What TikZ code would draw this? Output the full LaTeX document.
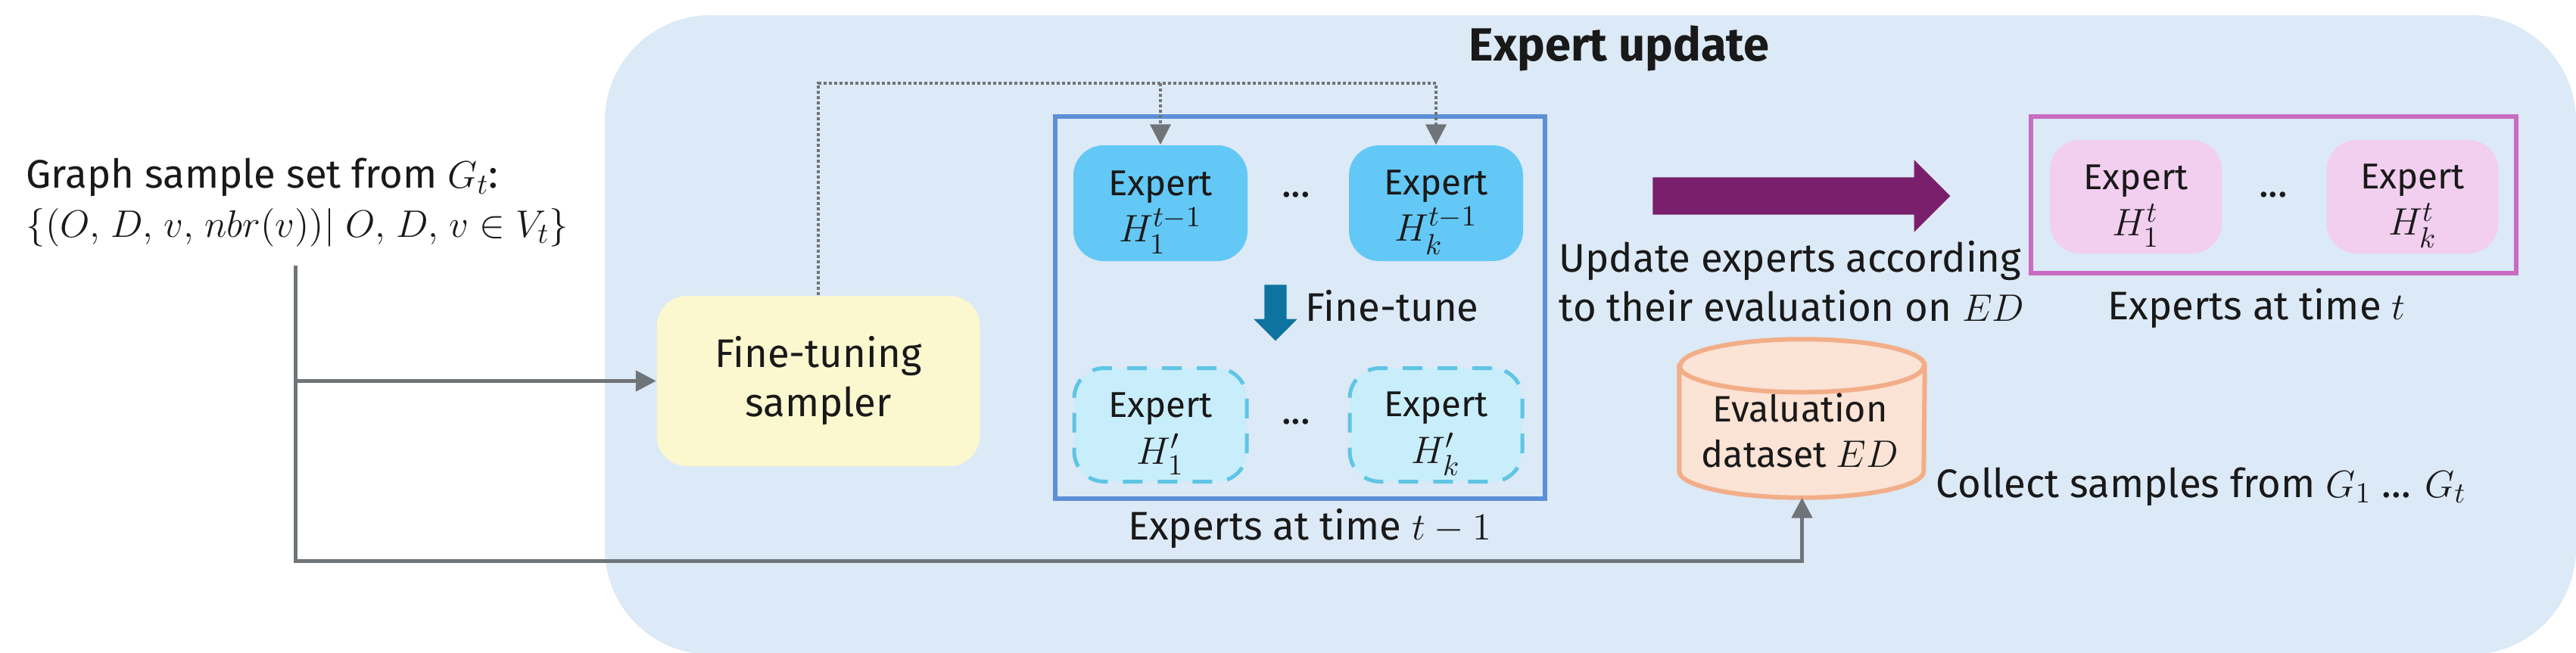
\documentclass[tikz,border=0pt]{standalone}
\usepackage{amsmath}
\usepackage{fontspec}
\setmainfont{Fira Sans}
\usetikzlibrary{arrows.meta, shapes}

\definecolor{panelblue}{HTML}{DCE9F6}
\definecolor{framblue}{HTML}{5B8FD6}
\definecolor{framepink}{HTML}{C96BC0}
\definecolor{oldfill}{HTML}{63C8F5}
\definecolor{newfill}{HTML}{C9EEFB}
\definecolor{newline}{HTML}{5FC5E5}
\definecolor{pinkfill}{HTML}{F2CEEF}
\definecolor{samplerfill}{HTML}{FBF8CF}
\definecolor{edfill}{HTML}{FBE3D5}
\definecolor{edline}{HTML}{F2AE88}
\definecolor{wirecol}{HTML}{6F7478}
\definecolor{fatblue}{HTML}{0E739F}
\definecolor{fatpurple}{HTML}{7A1F6B}

\newcommand{\lift}{\rule{0pt}{16pt}}
\newcommand{\mathsize}{\fontsize{15}{17.5}\selectfont}

\tikzset{
	txt/.style={font=\fontsize{15}{18.5}\selectfont, inner sep=0pt, text=black!90},
	expert/.style={txt, font=\fontsize{13.5}{17.5}\selectfont, rectangle, rounded corners=0.4cm, align=center, minimum width=2.3cm, minimum height=1.53cm},
	oldexpert/.style={expert, fill=oldfill},
	newexpert/.style={expert, fill=newfill, draw=newline, line width=0.05cm, dash pattern=on 0.26cm off 0.2cm, minimum width=2.28cm, minimum height=1.5cm},
	tipexpert/.style={expert, fill=pinkfill, minimum width=2.27cm, minimum height=1.5cm},
	cyl/.style={draw=edline, line width=0.06cm},
	wire/.style={draw=wirecol, line width=0.05cm, -{Triangle[length=2.7mm, width=2.7mm]}},
	dotwire/.style={wire, line width=0.04cm, dash pattern=on 0.04cm off 0.03cm}
}

\begin{document}
\begin{tikzpicture}
	\useasboundingbox (0, 0) rectangle (34.03, 8.62);

	\node[rectangle, rounded corners=1.4cm, fill=panelblue, minimum width=26.04cm, minimum height=8.45cm] (panel) at (21.01, 4.195) {};
	\node[txt, font=\fontsize{17.5}{20}\selectfont\bfseries] (title) at (21.39, 7.98) {Expert update};

	\node[txt, align=left, anchor=west] (graph) at (0.34, 5.94) {Graph sample set from $G_t$:\\$\thinmuskip=5mu \{(O, D, v, nbr(v))|\, O, D, v \in V_t\}$};
	\node[txt, rectangle, rounded corners=0.4cm, align=center, fill=samplerfill, minimum width=4.27cm, minimum height=2.25cm] (sampler) at (10.81, 3.585) {Fine-tuning\\sampler};

	% experts at time t-1
	\node[rectangle, draw=framblue, line width=0.06cm, minimum width=6.47cm, minimum height=5.05cm] (oldframe) at (17.175, 4.555) {};
	\node[oldexpert] (old1) at (15.33, 5.935) {\lift Expert\\\mathsize$H_1^{t-1}$};
	\node[oldexpert] (oldk) at (18.97, 5.935) {\lift Expert\\\mathsize$H_k^{t-1}$};
	\node[txt] (olddots) at (17.12, 6.05) {...};
	\node[single arrow, fill=fatblue, inner xsep=0.14cm, inner ysep=0pt, minimum width=0.56cm, minimum height=0.74cm, single arrow head extend=0.14cm, shape border rotate=270] (tunearrow) at (16.85, 4.56) {};
	\node[txt, anchor=west] (tunetext) at (17.24, 4.58) {Fine-tune};
	\node[newexpert] (new1) at (15.33, 3.005) {\lift Expert\\\mathsize$H'_1$};
	\node[newexpert] (newk) at (18.97, 3.005) {\lift Expert\\\mathsize$H'_k$};
	\node[txt] (newdots) at (17.12, 3.05) {...};
	\node[txt] (oldcaption) at (17.3, 1.63) {Experts at time $t-1$};

	% update step
	\node[single arrow, fill=fatpurple, inner xsep=0pt, inner ysep=0.24cm, minimum width=0.94cm, minimum height=3.93cm, single arrow head extend=0.23cm] (updatearrow) at (23.675, 6.03) {};
	\node[txt, align=left, anchor=west] (updatetext) at (20.59, 4.9) {Update experts according\\to their evaluation on $ED$};

	% experts at time t
	\node[rectangle, draw=framepink, line width=0.06cm, minimum width=6.41cm, minimum height=2.07cm] (tipframe) at (30.035, 6.045) {};
	\node[tipexpert] (tip1) at (28.215, 6.02) {\lift Expert\\\mathsize$H_1^{t}$};
	\node[tipexpert] (tipk) at (31.87, 6.02) {\lift Expert\\\mathsize$H_k^{t}$};
	\node[txt] (tipdots) at (30.03, 6.05) {...};
	\node[txt] (tipcaption) at (29.81, 4.54) {Experts at time $t$};

	% evaluation dataset
	\node[rectangle, inner sep=0pt, minimum width=3.23cm, minimum height=2.08cm] (ed) at (23.805, 3.09) {};
	\draw[cyl, fill=edfill] ([yshift=-0.35cm]ed.north west) -- ([yshift=0.35cm]ed.south west) arc[start angle=180, end angle=360, x radius=1.615cm, y radius=0.35cm] -- ([yshift=-0.35cm]ed.north east) arc[start angle=0, end angle=180, x radius=1.615cm, y radius=0.35cm] -- cycle;
	\draw[cyl] ([yshift=-0.35cm]ed.north west) arc[start angle=180, end angle=360, x radius=1.615cm, y radius=0.35cm];
	\node[txt, font=\fontsize{13.8}{17}\selectfont, align=center] (edtext) at (23.78, 2.93) {Evaluation\\dataset \mathsize$ED$};
	\node[txt, anchor=west] (collect) at (25.57, 2.19) {Collect samples from $G_1$ ... $G_t$};

	% connectors
	\coordinate (wirestart) at (3.9, 5.11);
	\coordinate (wirecorner) at (3.9, 1.21);
	\coordinate (dotbar) at (18.97, 7.52);
	\draw[wire] (wirestart) -- (wirecorner) -| (ed.south);
	\draw[wire] (wirestart |- sampler.west) -- (sampler.west);
	\draw[dotwire] (sampler.north) |- (dotbar) -- (oldk.north);
	\draw[dotwire] (old1.north |- dotbar) -- (old1.north);

\end{tikzpicture}
\end{document}
